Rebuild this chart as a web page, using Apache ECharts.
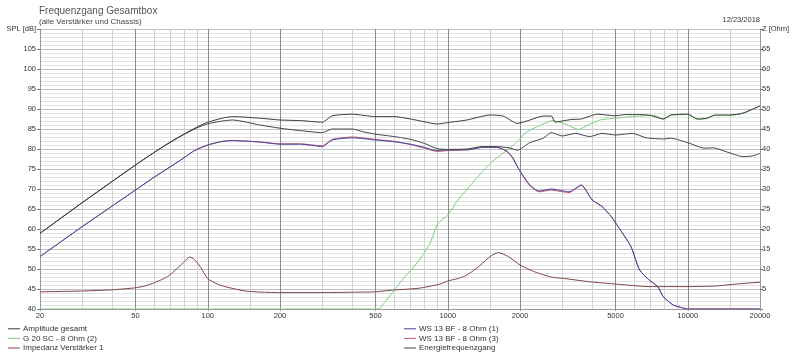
<!DOCTYPE html>
<html>
<head>
<meta charset="utf-8">
<script src="https://cdn.jsdelivr.net/npm/echarts@6.0.0/dist/echarts.min.js"></script>
<style>
html,body{margin:0;padding:0;background:#fff;}
#chart{width:800px;height:355px;}
</style>
</head>
<body>
<div id="chart"></div>
<script>
// ---- tick values ----
const xMajor = [20, 50, 100, 200, 500, 1000, 2000, 5000, 10000, 20000];
const xMinor = [30, 40, 60, 70, 80, 90, 150, 300, 400, 600, 700, 800, 900, 1500, 3000, 4000, 6000, 7000, 8000, 9000, 15000];

// ---- series data (frequency in Hz, SPL in dB, impedance in Ohm) ----
const freqAmp = [20,30,40,50,60,70,80,91,100,115,127,165,200,243,300,330,400,500,600,700,800,900,1000,1200,1500,1700,1950,2200,2500,2700,2800,3000,3300,3600,4200,5000,5500,6300,7000,7900,8500,10000,11000,12000,13000,15000,17000,20000];
const ampGesamt = [58.9,66.6,71.9,76.0,79.2,81.8,83.8,85.6,86.7,87.7,88.1,87.7,87.25,87.1,86.7,88.3,88.7,88.1,88.1,87.5,86.8,86.25,86.6,87.25,88.5,88.25,86.4,87.25,88.25,88.25,86.7,87.0,87.4,87.5,88.7,88.3,88.6,88.6,88.4,87.5,88.5,88.7,87.5,87.7,88.5,88.5,89.0,90.8];

const freqEnergy = [20,30,40,50,60,70,80,91,100,115,127,165,200,243,300,330,400,445,500,600,700,800,900,1000,1200,1400,1600,1800,1950,2200,2500,2700,3000,3400,3900,4400,5000,5900,6700,7900,8500,10200,11700,12800,14500,17000,18500,20000];
const energy = [58.9,66.6,71.9,76.0,79.2,81.7,83.7,85.4,86.3,87.0,87.25,86.0,85.2,84.6,84.1,85.0,85.0,84.3,83.7,83.1,82.4,81.4,80.1,79.9,80.0,80.6,80.6,80.3,79.7,81.6,82.7,84.1,83.25,83.9,83.1,83.9,83.5,83.9,82.8,82.5,82.7,81.4,80.2,80.3,79.3,78.1,78.25,78.9];

const freqWoofer = [20,30,40,50,60,73,80,88,100,115,127,165,200,243,300,330,400,500,600,700,800,900,1000,1200,1400,1600,1750,1850,2000,2200,2400,2700,3200,3600,4000,4400,4800,5300,5800,6300,6900,7500,7900,8700,9500,10000,20000];
const woofer1 = [53.1,60.6,65.75,69.75,73.0,76.3,77.9,79.6,81.0,81.9,82.1,81.75,81.2,81.2,80.6,82.25,82.8,82.25,81.8,81.2,80.4,79.6,79.75,79.75,80.4,80.4,79.6,78.2,74.5,71.0,69.5,70.0,69.3,71.0,67.25,65.6,63.1,59.3,55.6,49.75,47.25,45.6,43.1,41.0,40.3,40.0,40.0];
const woofer3 = [53.1,60.6,65.75,69.75,73.0,76.3,77.9,79.6,81.0,81.9,82.1,81.75,81.3,81.3,80.8,82.4,83.0,82.4,81.9,81.1,80.2,79.4,79.6,79.9,80.6,80.5,79.5,78.0,74.4,70.8,69.3,69.7,69.1,70.9,67.25,65.6,63.1,59.3,55.6,49.75,47.25,45.6,43.1,41.0,40.3,40.0,40.0];

const freqTweeter = [20,514,548,602,664,752,843,910,1000,1104,1300,1500,1660,1880,2000,2100,2400,2740,3100,3500,3850,4300,5200,6300,7300,7900,8500,10000,11000,12000,13000,15000,17000,20000];
const tweeter = [40,40,41.8,44.9,48.1,51.8,56.4,61.4,63.5,67.25,72.25,76.4,78.5,81.0,82.5,84.0,85.8,87.1,86.2,84.9,86.0,87.25,87.8,88.25,88.4,87.4,88.4,88.6,87.4,87.6,88.4,88.4,88.9,90.7];

const freqImp = [20,30,40,50,55,60,64,68,72,76,80,84,88,93,100,110,118,130,143,170,200,300,400,500,600,760,930,1000,1100,1180,1280,1370,1500,1620,1790,2000,2300,2730,3000,3900,5100,6900,10000,13000,16000,20000];
const impedance = [4.3,4.5,4.8,5.3,5.8,6.6,7.3,8.1,9.3,10.6,11.9,13.0,12.4,10.6,7.6,6.2,5.6,5.0,4.5,4.2,4.1,4.1,4.2,4.3,4.75,5.2,6.25,7.0,7.6,8.25,9.6,11.0,13.1,14.1,13.1,11.0,9.3,7.9,7.7,6.8,6.2,5.6,5.6,5.75,6.25,6.7];

const legendLeft = ['Amplitude gesamt', 'G 20 SC - 8 Ohm (2)', 'Impedanz Verstärker 1'];
const legendRight = ['WS 13 BF - 8 Ohm (1)', 'WS 13 BF - 8 Ohm (3)', 'Energiefrequenzgang'];

function pairs(xs, ys) { return xs.map((x, i) => [x, ys[i]]); }

const FONT = '"Liberation Sans", Arial, sans-serif';
const chart = echarts.init(document.getElementById('chart'), null, {renderer: 'canvas'});

function line(name, xs, ys, color, yIdx) {
  return {
    name: name, type: 'line', data: pairs(xs, ys), xAxisIndex: 0, yAxisIndex: yIdx,
    showSymbol: false, symbol: 'none', smooth: 0.2, clip: true,
    lineStyle: {width: 1, color: color}, itemStyle: {color: color},
    emphasis: {disabled: true}, silent: true
  };
}

const legendCommon = {
  orient: 'vertical', icon: 'rect', itemWidth: 12, itemHeight: 1, itemGap: 0, padding: 0,
  textStyle: {fontSize: 8, color: '#333', fontFamily: FONT, lineHeight: 9.6, padding: [0, 0, 0, -2]},
  selectedMode: false
};

chart.setOption({
  animation: false,
  backgroundColor: '#fff',
  textStyle: {fontFamily: FONT},
  title: [
    {text: 'Frequenzgang Gesamtbox', subtext: '(alle Verstärker und Chassis)', left: 39, top: 6, padding: 0, itemGap: 2,
     textStyle: {fontSize: 10, fontWeight: 'normal', color: '#555', fontFamily: FONT},
     subtextStyle: {fontSize: 8, color: '#444', fontFamily: FONT}},
    {text: '12/23/2018', right: 40, top: 16, padding: 0,
     textStyle: {fontSize: 7.5, fontWeight: 'normal', color: '#333', fontFamily: FONT}}
  ],
  legend: [
    Object.assign({}, legendCommon, {data: legendLeft, left: 8, top: 324}),
    Object.assign({}, legendCommon, {data: legendRight, left: 404, top: 324})
  ],
  grid: {left: 40, right: 40, top: 29, bottom: 46, containLabel: false},
  xAxis: [
    {type: 'log', logBase: 10, min: 20, max: 20000, position: 'bottom',
     axisLine: {show: true, lineStyle: {color: '#999'}},
     axisTick: {show: true, length: 2, customValues: xMajor, lineStyle: {color: '#999'}},
     axisLabel: {customValues: xMajor, fontSize: 7.5, color: '#333', margin: 3, fontFamily: FONT,
                 formatter: v => String(Math.round(v))},
     splitLine: {show: true, lineStyle: {color: '#8a8a8a', width: 1}}},
    {type: 'log', logBase: 10, min: 20, max: 20000, position: 'bottom',
     axisLine: {show: false},
     axisTick: {show: false, customValues: xMinor},
     axisLabel: {show: false, customValues: xMinor},
     splitLine: {show: true, lineStyle: {color: '#d2d2d2', width: 1}}}
  ],
  yAxis: [
    {type: 'value', min: 40, max: 110, interval: 5, position: 'left',
     axisLine: {show: true, lineStyle: {color: '#999'}},
     axisTick: {show: true, length: 3, lineStyle: {color: '#777'}},
     axisLabel: {fontSize: 7.5, color: '#333', margin: 4, fontFamily: FONT,
                 formatter: v => v === 110 ? 'SPL [dB]' : String(v)},
     splitLine: {show: true, lineStyle: {color: '#c0c0c0', width: 1}},
     minorTick: {show: false, splitNumber: 5},
     minorSplitLine: {show: true, lineStyle: {color: '#e3e3e3', width: 1}}},
    {type: 'value', min: 0, max: 70, interval: 5, position: 'right',
     axisLine: {show: true, lineStyle: {color: '#999'}},
     axisTick: {show: true, length: 3, lineStyle: {color: '#777'}},
     axisLabel: {fontSize: 7.5, color: '#333', margin: 2, fontFamily: FONT,
                 formatter: v => v === 70 ? 'Z [Ohm]' : (v === 0 ? '' : String(v))},
     splitLine: {show: false}}
  ],
  series: [
    line('Impedanz Verstärker 1', freqImp, impedance, '#7f4444', 1),
    line('G 20 SC - 8 Ohm (2)', freqTweeter, tweeter, '#7ccc7c', 0),
    line('WS 13 BF - 8 Ohm (3)', freqWoofer, woofer3, '#cc5a6a', 0),
    line('WS 13 BF - 8 Ohm (1)', freqWoofer, woofer1, '#44449c', 0),
    line('Energiefrequenzgang', freqEnergy, energy, '#444444', 0),
    line('Amplitude gesamt', freqAmp, ampGesamt, '#3a3a3a', 0)
  ]
});
</script>
</body>
</html>
